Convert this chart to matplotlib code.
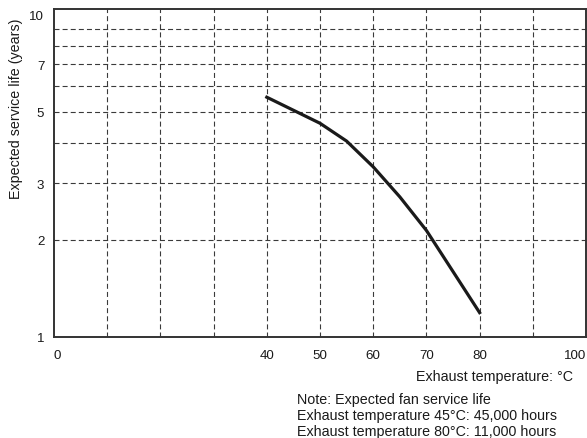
#!/usr/bin/env python3
"""Expected fan service life vs exhaust temperature (log scale)."""
import matplotlib

matplotlib.use("Agg")
import matplotlib.pyplot as plt
from matplotlib.ticker import NullLocator

plt.rcParams["font.family"] = ["Liberation Sans", "DejaVu Sans"]

# curve
temp_c = [40, 50, 55, 60, 65, 70, 80]
life_years = [5.54, 4.60, 4.05, 3.37, 2.72, 2.14, 1.19]

x_ticks = [0, 40, 50, 60, 70, 80, 100]
y_ticks = [1, 2, 3, 5, 7, 10]
x_grid = [10, 20, 30, 40, 50, 60, 70, 80, 90]
y_grid = [2, 3, 4, 5, 6, 7, 8, 9]

notes = [
    "Note: Expected fan service life",
    "Exhaust temperature 45\u00b0C: 45,000 hours",
    "Exhaust temperature 80\u00b0C: 11,000 hours",
]

W, H = 587, 439
fig = plt.figure(figsize=(W / 100, H / 100), dpi=100)
fig.patch.set_facecolor("white")
ax = fig.add_axes([54 / W, 1 - 338 / H, 532 / W, 328 / H])

ax.set_yscale("log")
ax.set_xlim(0, 100)
ax.set_ylim(1, 10.4)

grid_kw = dict(color="#3a3a3a", linewidth=0.8, linestyle=(0, (4.5, 2.8)), zorder=1)
for gx in x_grid:
    ax.axvline(gx, **grid_kw)
for gy in y_grid:
    ax.axhline(gy, **grid_kw)

ax.plot(temp_c, life_years, color="#1a1a1a", linewidth=2.3,
        solid_joinstyle="miter", zorder=3)

ax.set_xticks(x_ticks)
ax.set_xticklabels([str(v) for v in x_ticks])
ax.set_yticks(y_ticks)
ax.set_yticklabels([str(v) for v in y_ticks])
ax.yaxis.set_minor_locator(NullLocator())
ax.tick_params(axis="both", length=0, labelsize=9.6, colors="#1a1a1a")
ax.tick_params(axis="x", pad=9)
ax.tick_params(axis="y", pad=7)
xl = ax.get_xticklabels()
xl[0].set_horizontalalignment("left")
xl[-1].set_horizontalalignment("right")

for spine in ax.spines.values():
    spine.set_color("#333333")
    spine.set_linewidth(1.4)

txt_size = 10.3
fig.text(16 / W, 1 - 109 / H, "Expected service life (years)", rotation=90,
         ha="center", va="center", fontsize=txt_size, color="#1a1a1a")

fig.text(573 / W, 1 - 377 / H, "Exhaust temperature: \u00b0C", ha="right", va="center",
         fontsize=txt_size, color="#1a1a1a")
for i, line in enumerate(notes):
    fig.text(297 / W, 1 - (400 + 16 * i) / H, line, ha="left", va="center",
             fontsize=txt_size, color="#1a1a1a")

fig.savefig("out.png", dpi=100, facecolor="white")
